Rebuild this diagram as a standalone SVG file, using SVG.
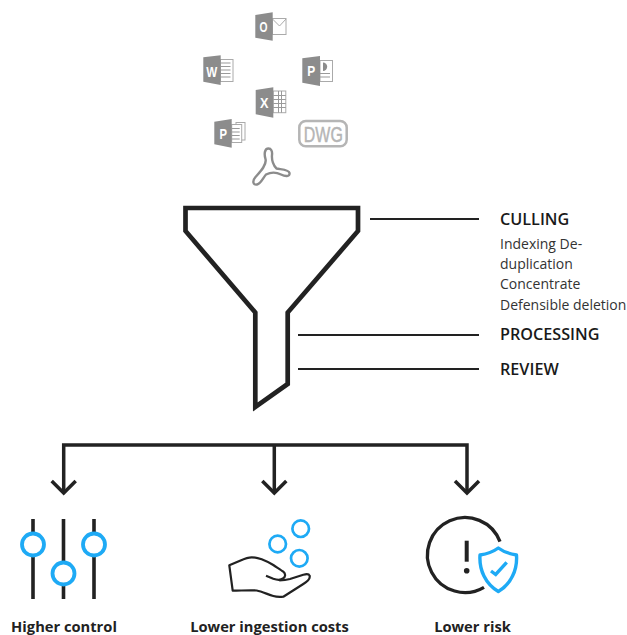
<svg xmlns="http://www.w3.org/2000/svg" width="627" height="635" viewBox="0 0 627 635">
<style>
text{font-family:"Open Sans","Liberation Sans",sans-serif;fill:#222}
.h{font-size:16.2px;font-weight:600;fill:#1a1a1a}
.b{font-size:14px;fill:#333}
.c{font-size:14.7px;font-weight:700;text-anchor:middle}
.bl{fill:none;stroke:#1eaaf5}
.g{fill:#8c8c8c}
.gl{fill:#fff;stroke:#aaa;stroke-width:1}
.ln{fill:none;stroke:#9a9a9a;stroke-width:1.2}
.gt{font-family:"Liberation Sans",sans-serif;font-weight:700;font-size:15px;fill:#fff;text-anchor:middle}
</style>
<g id="outlook"><rect class="gl" x="272.500" y="18.500" width="13.500" height="16"/><path d="M272.500 19l7 7 6.500-7" fill="none" stroke="#aaa"/><path class="g" d="M255.300 15L272.700 12.300V40.700L255.300 37.700z"/><text class="gt" x="263.500" y="32" textLength="8" lengthAdjust="spacingAndGlyphs">O</text></g>
<g id="word"><rect class="gl" x="220.500" y="59.500" width="12.500" height="22"/><path class="ln" d="M220.500 63h10M220.500 66.500h10M220.500 70h10M220.500 73.500h10M220.500 77h10"/><path class="g" d="M203.300 57.300L220.700 55.300V85L203.300 81.700z"/><text class="gt" x="211.700" y="76.500" textLength="11" lengthAdjust="spacingAndGlyphs">W</text></g>
<g id="powerpoint"><rect class="gl" x="320" y="60.500" width="12.500" height="21"/><path d="M323 62.500a4.200 4.200 0 1 1 0 8.400z" fill="#8c8c8c"/><path class="ln" d="M320 73.500h10M320 77h10"/><path class="g" d="M302.300 58.300L320 56V86L302.300 82.700z"/><text class="gt" x="311.300" y="76" textLength="8" lengthAdjust="spacingAndGlyphs">P</text></g>
<g id="excel"><rect class="gl" x="273.300" y="91" width="12.500" height="21.700"/><path d="M273.300 95.500h12.500M273.300 99.500h12.500M273.300 103.500h12.500M273.300 107.500h12.500M278.500 91v21.700M281.500 91v21.700" fill="none" stroke="#9a9a9a"/><path class="g" d="M255.700 90L273.300 87.300V117.700L255.700 114.300z"/><text class="gt" x="264.300" y="108" textLength="8.500" lengthAdjust="spacingAndGlyphs">X</text></g>
<g id="project"><rect class="gl" x="236" y="122.500" width="9" height="17.500"/><rect class="gl" x="231.700" y="124.500" width="10" height="18"/><path class="ln" d="M231.700 128.500h8M231.700 132h8M231.700 135.500h8M231.700 139h8"/><path class="g" d="M214.300 121.700L231.700 119V147.700L214.300 144.300z"/><text class="gt" x="223.300" y="139" textLength="7.500" lengthAdjust="spacingAndGlyphs">P</text></g>
<g id="dwg"><rect x="299.300" y="121" width="47.400" height="25.300" rx="6.500" fill="none" stroke="#b5b5b5" stroke-width="2.500"/><text x="323.300" y="141.500" font-size="22" text-anchor="middle" textLength="39" lengthAdjust="spacingAndGlyphs" style="font-family:'Liberation Sans',sans-serif;fill:#b5b5b5;stroke:#b5b5b5;stroke-width:.5">DWG</text></g>
<g id="pdf"><path d="M268.500 148.500C264.500 148.500 264 154 265.500 159C267 165 260 172 255.500 177C252 181 253 185.500 257 184.500C261 183.500 263.500 177 266 174.500C271 172 276 172 281 174.500C285 176.500 290 177 289.500 173C289 169.500 281 169.500 276.500 168.500C273.500 166 271.500 160 272 155C272.500 151 271 148.500 268.500 148.500Z" fill="none" stroke="#8c8c8c" stroke-width="2.400"/></g>
<g id="funnel"><path d="M185.500 208H358V231L287.700 312.500V384L255.300 407V312.500L185.500 231Z" fill="none" stroke="#222" stroke-width="4.700"/></g>
<g id="connectors" fill="none" stroke="#222">
<path stroke-width="2" d="M370 219H479M298 335H479M298 369H479"/>
<g stroke-width="3.500"><path d="M63.700 492V445H467V492M274.300 445V492"/><path d="M51.700 481L63.700 493 75.700 481M262.300 481L274.300 493 286.300 481M455 481L467 493 479 481"/></g>
</g>
<g id="culling"><text class="h" x="500" y="225">CULLING</text><text class="b"><tspan x="500" y="249">Indexing De-</tspan><tspan x="500" y="269">duplication</tspan><tspan x="500" y="289">Concentrate</tspan><tspan x="500" y="310">Defensible deletion</tspan></text></g>
<g id="processing"><text class="h" x="500" y="340">PROCESSING</text></g>
<g id="review"><text class="h" x="500" y="374.500">REVIEW</text></g>
<g id="higher-control"><path fill="none" stroke="#222" stroke-width="3.600" d="M33 519V534M33 555V599M63.500 519V563M63.500 584V599M94 519V534M94 555V599"/><g class="bl" stroke-width="3.800"><circle cx="33" cy="544.500" r="11"/><circle cx="63.500" cy="573.500" r="11"/><circle cx="94" cy="544.500" r="11"/></g><text class="c" x="64" y="632">Higher control</text></g>
<g id="lower-ingestion"><path d="M266 575.700L273.300 578.700C277 580 281 580 283 578.500C285.500 577 286 574 283.300 571.700C281 570 277 567.500 273.300 565C270 563 266 561 261.700 559.300C258 558 255 557.300 251.700 557.300C248 557.300 245 558.500 240 560.700L229.300 565.300L232.700 590.700C240 590.700 250 590 256.700 590.500C262 591.500 268 594.500 273.300 596C276.500 597 280 597 283.300 596.700L303.300 584C309 580.500 310.500 578 309.500 575.500C309 574 306 574 303.300 574.700L290 579C287 579.800 283 580.300 279.300 580.300" fill="none" stroke="#222" stroke-width="2.200" stroke-linejoin="round"/><g class="bl" stroke-width="2.700"><circle cx="300.700" cy="528.700" r="8.300"/><circle cx="277.700" cy="544" r="8.300"/><circle cx="299.300" cy="558.300" r="8.300"/></g><text class="c" x="269.500" y="632">Lower ingestion costs</text></g>
<g id="lower-risk"><path d="M500 541.700A37.500 37.500 0 1 0 484 587.300" fill="none" stroke="#222" stroke-width="3.300"/><path d="M466.700 540.700V561.700" stroke="#222" stroke-width="4" fill="none"/><circle cx="466.700" cy="570.700" r="2.800" fill="#222"/><path class="bl" stroke-width="3.400" stroke-linejoin="round" d="M498.300 548C503 551.500 510 554 516.500 555C517.500 570 511 584 498.300 591.500C485.500 584 479 570 480 555C486.500 554 493.500 551.500 498.300 548Z"/><path class="bl" stroke-width="3.400" d="M491 571L495.700 574.500L506.700 562.300"/><text class="c" x="472.500" y="632">Lower risk</text></g>
</svg>
